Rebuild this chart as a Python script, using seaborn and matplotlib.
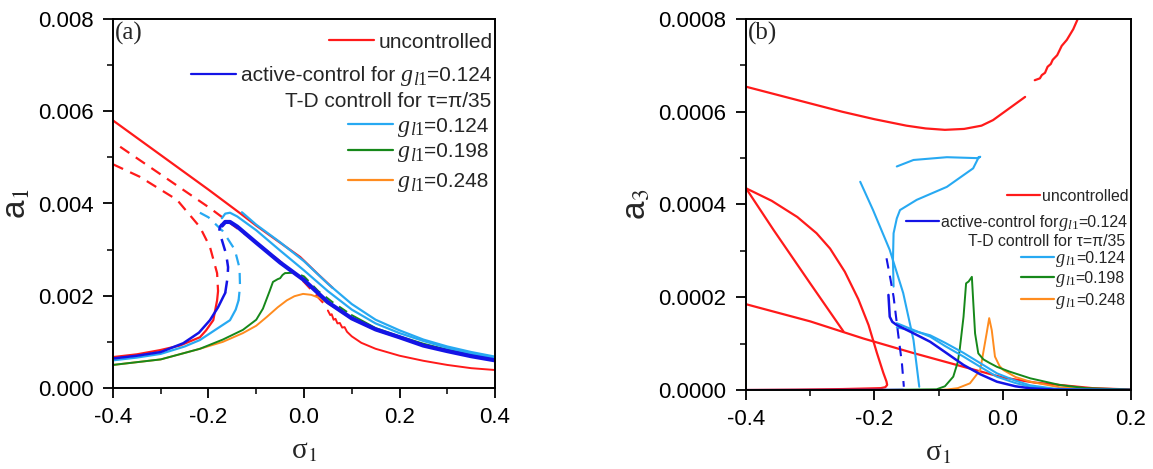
import numpy as np
import pandas as pd
import matplotlib
matplotlib.use("Agg")
import matplotlib.pyplot as plt
import seaborn as sns
from matplotlib.ticker import MultipleLocator, FormatStrFormatter
from matplotlib.transforms import IdentityTransform

# ---------------- panel (a): sigma1 vs a1 ----------------
a_red_upper_x = [-0.4, -0.3, -0.2, -0.134, -0.1, -0.05, -0.008, 0.03, 0.06]
a_red_upper_y = [0.0058, 0.00505, 0.0043, 0.00379, 0.00352, 0.00315, 0.00284, 0.00246, 0.00217]
a_red_mid_x = [-0.385, -0.3, -0.197, -0.098, -0.036, 0.0, 0.048]
a_red_mid_y = [0.00523, 0.00463, 0.0039, 0.00314, 0.00263, 0.0023, 0.00176]
a_red_left_dash_x = [-0.4, -0.344, -0.266, -0.218, -0.197, -0.182, -0.18]
a_red_left_dash_y = [0.00485, 0.00458, 0.00408, 0.00349, 0.00306, 0.00249, 0.0021]
a_red_low_x = [-0.18, -0.182, -0.19, -0.205, -0.218, -0.26, -0.302, -0.35, -0.4]
a_red_low_y = [0.0021, 0.0019, 0.00147, 0.00125, 0.0011, 0.00092, 0.00082, 0.00073, 0.00067]
a_red_right_x = [0.05, 0.055, 0.058, 0.062, 0.066, 0.07, 0.075, 0.08, 0.085, 0.09, 0.1, 0.12,
                 0.15, 0.2, 0.25, 0.3, 0.35, 0.4]
a_red_right_y = [0.00168, 0.00158, 0.0016, 0.00148, 0.0015, 0.0014, 0.00141, 0.00131, 0.00132,
                 0.00122, 0.00112, 0.00098, 0.00085, 0.0007, 0.00059, 0.0005, 0.00043, 0.00039]

a_blue_up_x = [-0.172, -0.165, -0.155, -0.14, -0.1, -0.05, 0.0, 0.05, 0.1, 0.15, 0.2, 0.25, 0.3, 0.35, 0.4]
a_blue_up_y = [0.00352, 0.0036, 0.0036, 0.0035, 0.00315, 0.00272, 0.00234, 0.00186, 0.00151,
               0.00127, 0.0011, 0.00092, 0.0008, 0.00069, 0.0006]
a_blue_dash_x = [-0.165, -0.16, -0.159, -0.163, -0.172, -0.178, -0.176, -0.172]
a_blue_dash_y = [0.00206, 0.0024, 0.00262, 0.0029, 0.00321, 0.00338, 0.0035, 0.00355]
a_blue_low_x = [-0.4, -0.35, -0.3, -0.253, -0.22, -0.197, -0.18, -0.168, -0.165]
a_blue_low_y = [0.00064, 0.0007, 0.00078, 0.00097, 0.0012, 0.00147, 0.00175, 0.002, 0.00206]

a_cyan_A_x = [-0.172, -0.165, -0.155, -0.14, -0.1, -0.05, 0.0, 0.05, 0.1, 0.15, 0.2, 0.25, 0.3, 0.35, 0.4]
a_cyan_A_y = [0.00368, 0.00378, 0.0038, 0.00372, 0.00342, 0.00298, 0.00255, 0.0021, 0.0017,
              0.0014, 0.00119, 0.00102, 0.00087, 0.00075, 0.00065]
a_cyan_B_x = [-0.13, -0.1, -0.05, 0.0, 0.05, 0.1, 0.15, 0.2, 0.25, 0.3, 0.35, 0.4]
a_cyan_B_y = [0.00381, 0.00354, 0.00316, 0.00275, 0.00226, 0.00182, 0.00148, 0.00125, 0.00105,
              0.0009, 0.00078, 0.00068]
a_cyan_dash_x = [-0.218, -0.2, -0.17, -0.145, -0.135, -0.134, -0.137]
a_cyan_dash_y = [0.0038, 0.0037, 0.0034, 0.003, 0.0026, 0.0022, 0.0019]
a_cyan_low_x = [-0.4, -0.35, -0.3, -0.25, -0.218, -0.18, -0.155, -0.143, -0.137]
a_cyan_low_y = [0.0006, 0.00066, 0.00074, 0.0009, 0.00104, 0.0013, 0.00147, 0.0017, 0.0019]

a_green_low_x = [-0.4, -0.3, -0.218, -0.17, -0.128, -0.1, -0.086, -0.072, -0.065, -0.055, -0.05, -0.045, -0.04]
a_green_low_y = [0.0005, 0.00062, 0.00085, 0.00105, 0.00126, 0.00148, 0.00172, 0.0021, 0.0023,
                 0.00236, 0.00238, 0.00245, 0.00249]
a_green_dash_x = [-0.04, -0.02, 0.0, 0.03, 0.06, 0.1]
a_green_dash_y = [0.00249, 0.0025, 0.00242, 0.0021, 0.00186, 0.00158]
a_green_right_x = [0.1, 0.15, 0.2, 0.25, 0.3, 0.35, 0.4]
a_green_right_y = [0.00158, 0.0013, 0.00112, 0.00096, 0.00083, 0.00072, 0.00063]

a_orange_x = [-0.4, -0.3, -0.218, -0.17, -0.128, -0.1, -0.078, -0.055, -0.036, -0.02, -0.002, 0.015,
              0.033, 0.061, 0.1, 0.15, 0.2, 0.25, 0.3, 0.35, 0.4]
a_orange_y = [0.0005, 0.00062, 0.00085, 0.001, 0.00119, 0.00135, 0.00154, 0.00175, 0.0019, 0.00199,
              0.00204, 0.00202, 0.00195, 0.00176, 0.0015, 0.00126, 0.00109, 0.00093, 0.00082,
              0.00071, 0.00062]

# ---------------- panel (b): sigma1 vs a3 ----------------
b_red_top1_x = [-0.4, -0.35, -0.3, -0.25, -0.2, -0.15, -0.12, -0.09, -0.06, -0.033, -0.015, 0.0,
                0.015, 0.035]
b_red_top1_y = [0.000654, 0.000636, 0.000618, 0.0006, 0.000584, 0.00057, 0.000564, 0.000561,
                0.000563, 0.00057, 0.000582, 0.000597, 0.000612, 0.000632]
b_red_top2_x = [0.05, 0.058, 0.061, 0.066, 0.07, 0.075, 0.078, 0.085, 0.092, 0.1, 0.11, 0.117]
b_red_top2_y = [0.000668, 0.000672, 0.000679, 0.000684, 0.000697, 0.000703, 0.000712, 0.000722,
                0.000742, 0.000755, 0.000778, 0.0008]
b_red_A_x = [-0.4, -0.357, -0.3, -0.248]
b_red_A_y = [0.000435, 0.000345, 0.00023, 0.000126]
b_red_B_x = [-0.4, -0.36, -0.32, -0.29, -0.269, -0.246, -0.225, -0.209, -0.196, -0.186,
             -0.181, -0.18, -0.183, -0.19, -0.25, -0.32, -0.4]
b_red_B_y = [0.000435, 0.000408, 0.000373, 0.000338, 0.000305, 0.000255, 0.000196, 0.00014,
             0.00008, 0.000037, 0.000018, 0.0000108, 0.000006, 0.000004, 0.000002,
             0.0000008, 0.0]
b_red_cross_x = [-0.4, -0.3, -0.217, -0.14, -0.061, 0.0, 0.05, 0.089, 0.14, 0.2]
b_red_cross_y = [0.000185, 0.000148, 0.000111, 0.00008, 0.00005, 0.000027, 0.000016, 0.0000108,
                 0.000004, 0.000001]

b_cyan1_x = [-0.222, -0.202, -0.176, -0.155, -0.139, -0.13]
b_cyan1_y = [0.000449, 0.000388, 0.000302, 0.000209, 0.000108, 0.000007]
b_cyan2_x = [-0.17, -0.171, -0.17, -0.165, -0.16, -0.134, -0.087, -0.046, -0.038, -0.035, -0.04,
             -0.087, -0.139, -0.165]
b_cyan2_y = [0.000223, 0.00028, 0.000338, 0.00037, 0.000388, 0.00041, 0.000438, 0.000478, 0.0005,
             0.000503, 0.0005, 0.000502, 0.000496, 0.000482]
b_cyan_low_x = [-0.165, -0.14, -0.113, -0.09, -0.061, -0.035, -0.009, 0.02, 0.043, 0.08, 0.12, 0.2]
b_cyan_low1_y = [0.000144, 0.00013, 0.000115, 0.000095, 0.000072, 0.00005, 0.0000287, 0.000015,
                 0.000007, 0.000002, 0.0000005, 0.0]
b_cyan_low2_y = [0.000135, 0.000128, 0.000118, 0.000102, 0.00008, 0.000058, 0.000036, 0.00002,
                 0.00001, 0.000003, 0.000001, 0.0]

b_blue_dash_x = [-0.181, -0.175, -0.17, -0.163, -0.157, -0.154]
b_blue_dash_y = [0.000284, 0.00024, 0.000201, 0.000122, 0.0000575, 0.000007]
b_blue_x = [-0.178, -0.176, -0.172, -0.165, -0.14, -0.113, -0.09, -0.061, -0.035, -0.009, 0.02,
            0.043, 0.08, 0.12, 0.2]
b_blue_y = [0.000205, 0.000158, 0.000147, 0.00014, 0.000123, 0.000104, 0.000082, 0.000054,
            0.000034, 0.0000179, 0.000008, 0.0000036, 0.000001, 0.0000003, 0.0]
b_blue_zero_x = [-0.4, -0.155]
b_blue_zero_y = [0.0, 0.0000005]

b_green_x = [-0.4, -0.2, -0.103, -0.09, -0.077, -0.07, -0.067, -0.061, -0.057, -0.053, -0.048,
             -0.046, -0.043, -0.038, -0.03, -0.02, -0.009, 0.01, 0.043, 0.089, 0.13, 0.2]
b_green_y = [0.0, 0.0, 0.0000015, 0.000008, 0.0000287, 0.00006, 0.0000863, 0.000158, 0.00023,
             0.000234, 0.000244, 0.000194, 0.000122, 0.000079, 0.000066, 0.000058, 0.00005,
             0.00004, 0.0000252, 0.0000108, 0.000004, 0.000001]
b_orange_x = [-0.4, -0.1, -0.087, -0.07, -0.051, -0.035, -0.025, -0.021, -0.017, -0.012, -0.005,
              0.001, 0.02, 0.043, 0.089, 0.13, 0.2]
b_orange_y = [0.0, 0.0, 0.000001, 0.000004, 0.0000144, 0.0000431, 0.000122, 0.000155, 0.000129,
              0.000072, 0.000052, 0.0000431, 0.000028, 0.0000179, 0.0000058, 0.000002, 0.0]

# legend entries as rich segments: (text, kind)
G = [("g", "g"), ("l", "li"), ("1", "lr")]
legend_a = [
    [("uncontrolled", "sans")],
    [("active-control for", "sans"), ("", "space")] + G + [("=0.124", "sans")],
    [("T-D controll for τ=π/35", "sans")],
    G + [("=0.124", "sans")],
    G + [("=0.198", "sans")],
    G + [("=0.248", "sans")],
]
legend_b = [
    [("uncontrolled", "sans")],
    [("active-control for", "sans")] + G + [("=0.124", "sans")],
    [("T-D controll for τ=π/35", "sans")],
    G + [("=0.124", "sans")],
    G + [("=0.198", "sans")],
    G + [("=0.248", "sans")],
]

RED, BLUE, CYAN, GREEN, ORANGE = "#ff1a1a", "#1414e6", "#27a9f2", "#16881a", "#ff8c1f"
legend_colors = [RED, BLUE, None, CYAN, GREEN, ORANGE]

sns.set_theme(style="ticks")
plt.rcParams["font.family"] = ["Liberation Sans", "DejaVu Sans"]
plt.rcParams["mathtext.fontset"] = "stix"
plt.rcParams["axes.unicode_minus"] = False

fig = plt.figure(figsize=(11.53, 4.69), dpi=100)
axa = fig.add_axes([113 / 1153, 1 - 388 / 469, 382 / 1153, 369 / 469])
axb = fig.add_axes([746 / 1153, 1 - 390 / 469, 385 / 1153, 371 / 469])


def line(ax, x, y, color, lw=1.5, ls="-"):
    df = pd.DataFrame({"x": x, "y": y})
    sns.lineplot(data=df, x="x", y="y", sort=False, estimator=None, ax=ax,
                 color=color, lw=lw, linestyle=ls)


DASH = (0, (5, 3.5))

# panel (a)
line(axa, a_red_upper_x, a_red_upper_y, RED, 1.6)
line(axa, a_red_mid_x, a_red_mid_y, RED, 1.6, DASH)
line(axa, a_red_left_dash_x, a_red_left_dash_y, RED, 1.6, DASH)
line(axa, a_red_low_x, a_red_low_y, RED, 1.6)
line(axa, a_red_right_x, a_red_right_y, RED, 1.4)
line(axa, a_orange_x, a_orange_y, ORANGE, 1.4)
line(axa, a_green_low_x, a_green_low_y, GREEN, 1.4)
line(axa, a_green_dash_x, a_green_dash_y, GREEN, 1.4, DASH)
line(axa, a_green_right_x, a_green_right_y, GREEN, 1.4)
line(axa, a_cyan_low_x, a_cyan_low_y, CYAN, 1.6)
line(axa, a_cyan_dash_x, a_cyan_dash_y, CYAN, 1.6, DASH)
line(axa, a_cyan_A_x, a_cyan_A_y, CYAN, 1.6)
line(axa, a_cyan_B_x, a_cyan_B_y, CYAN, 1.6)
line(axa, a_blue_low_x, a_blue_low_y, BLUE, 1.8)
line(axa, a_blue_dash_x, a_blue_dash_y, BLUE, 1.8, DASH)
line(axa, a_blue_up_x, a_blue_up_y, BLUE, 3.0)

# panel (b)
line(axb, b_red_top1_x, b_red_top1_y, RED, 1.6)
line(axb, b_red_top2_x, b_red_top2_y, RED, 1.6)
line(axb, b_red_A_x, b_red_A_y, RED, 1.6)
line(axb, b_red_B_x, b_red_B_y, RED, 1.6)
line(axb, b_red_cross_x, b_red_cross_y, RED, 1.6)
line(axb, b_orange_x, b_orange_y, ORANGE, 1.4)
line(axb, b_green_x, b_green_y, GREEN, 1.4)
line(axb, b_cyan1_x, b_cyan1_y, CYAN, 1.5)
line(axb, b_cyan2_x, b_cyan2_y, CYAN, 1.5)
line(axb, b_cyan_low_x, b_cyan_low1_y, CYAN, 1.5)
line(axb, b_cyan_low_x, b_cyan_low2_y, CYAN, 1.5)
line(axb, b_blue_zero_x, b_blue_zero_y, BLUE, 1.5)
line(axb, b_blue_dash_x, b_blue_dash_y, BLUE, 1.5, DASH)
line(axb, b_blue_x, b_blue_y, BLUE, 1.8)

for ax, (xmin, xmax), (ymin, ymax), ymaj, fmt, ylab in [
        (axa, (-0.4, 0.4), (0, 0.008), 0.002, "%.3f", r"a$_1$"),
        (axb, (-0.4, 0.2), (0, 0.0008), 0.0002, "%.4f", r"a$_3$")]:
    ax.set_xlim(xmin, xmax)
    ax.set_ylim(ymin, ymax)
    ax.xaxis.set_major_locator(MultipleLocator(0.2))
    ax.xaxis.set_minor_locator(MultipleLocator(0.1))
    ax.yaxis.set_major_locator(MultipleLocator(ymaj))
    ax.yaxis.set_minor_locator(MultipleLocator(ymaj / 2))
    ax.xaxis.set_major_formatter(FormatStrFormatter("%.1f"))
    ax.yaxis.set_major_formatter(FormatStrFormatter(fmt))
    ax.tick_params(which="major", direction="out", length=7.5, width=1.3, labelsize=16,
                   colors="black", pad=6.5, top=False, right=False)
    ax.tick_params(which="minor", direction="out", length=4.5, width=1.3, top=False, right=False)
    for s in ax.spines.values():
        s.set_visible(True)
        s.set_linewidth(1.4)
        s.set_color("black")
    ax.set_xlabel("σ$_1$", fontsize=21, labelpad=7, family="Liberation Serif")
    ax.set_ylabel(ylab, fontsize=24, labelpad=4)

axa.text(0.004, 0.993, "(a)", transform=axa.transAxes, ha="left", va="top",
         fontsize=18, family="Liberation Serif")
axb.text(0.004, 0.993, "(b)", transform=axb.transAxes, ha="left", va="top",
         fontsize=18, family="Liberation Serif")

fig.canvas.draw()
renderer = fig.canvas.get_renderer()


def rich(ax, xr, yc, segs, fs):
    xd, yd = ax.transAxes.transform((xr, yc))
    px = fs * 100 / 72.0
    base = yd - 0.36 * px
    cur = xd
    for text, kind in reversed(segs):
        if kind == "space":
            cur -= 0.28 * px
            continue
        dy = 0.0
        if kind == "sans":
            kw = dict(family="Liberation Sans", size=fs)
        elif kind == "g":
            kw = dict(family="Liberation Serif", style="italic", size=fs * 1.15)
        elif kind == "li":
            kw = dict(family="Liberation Serif", style="italic", size=fs * 0.85)
            dy = -0.16 * px
        else:
            kw = dict(family="Liberation Serif", size=fs * 0.85)
            dy = -0.16 * px
        t = ax.text(cur, base + dy, text, transform=IdentityTransform(), ha="right",
                    va="baseline", **kw)
        bb = t.get_window_extent(renderer=renderer)
        cur = bb.x0
    return cur, yd


def legend(ax, entries, ys, xr, fs, hlen, gap):
    for segs, col, y, x in zip(entries, legend_colors, ys, xr):
        left, yd = rich(ax, x, y, segs, fs)
        if col is None:
            continue
        x1d = left - gap
        x0d = x1d - hlen
        (ax0, _), (ax1, _) = ax.transAxes.inverted().transform([(x0d, yd), (x1d, yd)])
        ax.plot([ax0, ax1], [y, y], transform=ax.transAxes, color=col, lw=1.6, clip_on=False)


legend(axa, legend_a, [0.943, 0.851, 0.783, 0.715, 0.645, 0.564],
       [0.995, 0.990, 0.990, 0.982, 0.982, 0.982], 15, 45, 5)
legend(axb, legend_b, [0.526, 0.456, 0.404, 0.358, 0.305, 0.245],
       [0.995, 0.990, 0.984, 0.984, 0.984, 0.984], 11.4, 33, 2)

fig.savefig("out.png", dpi=100)
